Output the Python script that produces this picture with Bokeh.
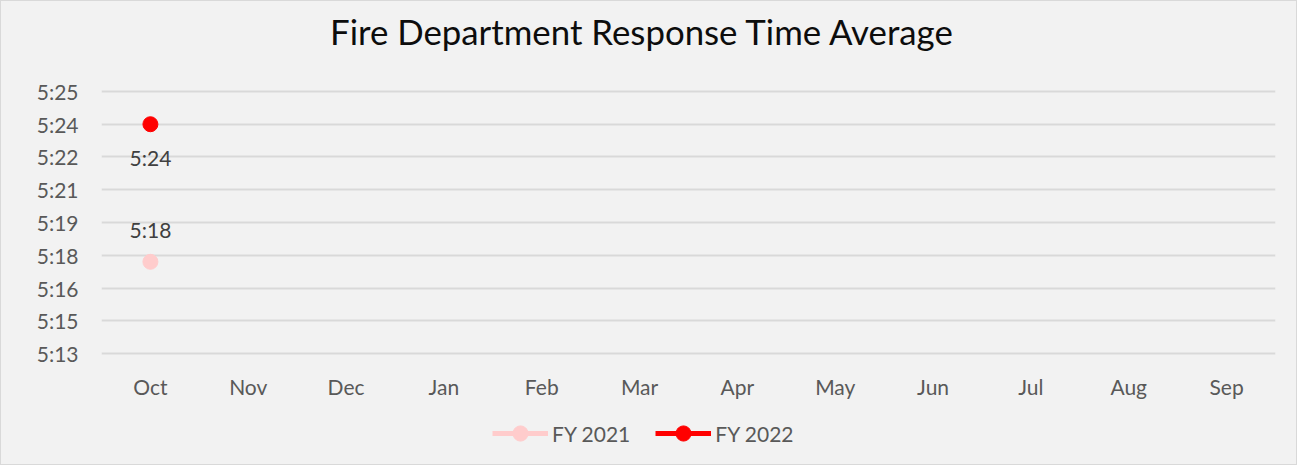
import numpy as np
from bokeh.plotting import figure
from bokeh.layouts import column
from bokeh.models import Range1d, FixedTicker, Legend, LegendItem, Label, ColumnDataSource
from bokeh.core.properties import value
from bokeh.embed import file_html
from bokeh.resources import INLINE

# ---- data ----
months = ["Oct", "Nov", "Dec", "Jan", "Feb", "Mar", "Apr", "May", "Jun", "Jul", "Aug", "Sep"]
fy2021_seconds = [317.2] + [np.nan] * 11   # average response time (seconds)
fy2022_seconds = [323.5] + [np.nan] * 11
fy2021_labels = ["5:18"]
fy2022_labels = ["5:24"]
y_tick_values = [313.0, 314.5, 316.0, 317.5, 319.0, 320.5, 322.0, 323.5, 325.0]
y_tick_labels = ["5:13", "5:15", "5:16", "5:18", "5:19", "5:21", "5:22", "5:24", "5:25"]
series_names = ["FY 2021", "FY 2022"]

FONT = "Lato"
TXT = "#595959"
BG = "#f2f2f2"
C21 = "#ffcccc"
C22 = "#ff0000"
W = 1295
FRAME_L, FRAME_R = 100, 1274   # main plot frame (the strips' frames are aligned to it)


def blank_figure(h, xr, yr):
    f = figure(width=W, height=h, x_range=xr, y_range=yr, output_backend="svg", title=None,
               toolbar_location=None, x_axis_location=None, y_axis_location=None,
               min_border=0, background_fill_color=BG, border_fill_color=BG,
               outline_line_color=None)
    f.xgrid.grid_line_color = None
    f.ygrid.grid_line_color = None
    return f


# ---- title strip ----
top = blank_figure(68, Range1d(FRAME_L, FRAME_R), Range1d(68, 0))
top.add_layout(Label(x=641, y=30, text="Fire Department Response Time Average",
                     text_font=FONT, text_font_size="34.8px", text_color="#0d0d0d",
                     text_align="center", text_baseline="alphabetic"))

# ---- main chart ----
fig = figure(width=W, height=332, x_range=months, y_range=Range1d(312.91, 325.09),
             output_backend="svg", toolbar_location=None,
             min_border_left=FRAME_L, min_border_right=W - FRAME_R, min_border_top=20, min_border_bottom=45,
             background_fill_color=BG, border_fill_color=BG, outline_line_color=None)

fig.yaxis.ticker = FixedTicker(ticks=y_tick_values)
fig.yaxis.major_label_overrides = {float(v): s for v, s in zip(y_tick_values, y_tick_labels)}
for ax in (fig.xaxis[0], fig.yaxis[0]):
    ax.axis_line_color = None
    ax.major_tick_line_color = None
    ax.minor_tick_line_color = None
    ax.major_label_text_font = FONT
    ax.major_label_text_font_size = "21px"
    ax.major_label_text_color = TXT
fig.yaxis.major_label_standoff = 17
fig.xaxis.major_label_standoff = 12
fig.xgrid.grid_line_color = None
fig.ygrid.grid_line_color = "#d9d9d9"
fig.ygrid.grid_line_width = 2

src21 = ColumnDataSource(dict(x=months, y=fy2021_seconds))
src22 = ColumnDataSource(dict(x=months, y=fy2022_seconds))
fig.line("x", "y", source=src21, line_color=C21, line_width=5)
fig.scatter("x", "y", source=src21, size=15, fill_color=C21, line_color=C21)
fig.line("x", "y", source=src22, line_color=C22, line_width=5)
fig.scatter("x", "y", source=src22, size=15, fill_color=C22, line_color=C22)

lab21 = ColumnDataSource(dict(x=months[:len(fy2021_labels)], y=fy2021_seconds[:len(fy2021_labels)], t=fy2021_labels))
lab22 = ColumnDataSource(dict(x=months[:len(fy2022_labels)], y=fy2022_seconds[:len(fy2022_labels)], t=fy2022_labels))
fig.text("x", "y", text="t", source=lab21, y_offset=-32, text_align="center", text_baseline="middle",
         text_font=value(FONT), text_font_size="21px", text_color="#404040")
fig.text("x", "y", text="t", source=lab22, y_offset=33, text_align="center", text_baseline="middle",
         text_font=value(FONT), text_font_size="21px", text_color="#404040")

# ---- legend strip ----
leg = blank_figure(63, Range1d(0, 1), Range1d(0, 1))
items = []
for name, col in zip(series_names, [C21, C22]):
    ln = leg.line(x=[np.nan], y=[np.nan], line_color=col, line_width=5)
    sc = leg.scatter(x=[np.nan], y=[np.nan], size=15, fill_color=col, line_color=col)
    items.append(LegendItem(label=name, renderers=[ln, sc]))
legend = Legend(items=items, orientation="horizontal", location=(391, 12),
                glyph_width=56, glyph_height=38, label_standoff=4, spacing=25,
                padding=0, margin=0, border_line_color=None, background_fill_alpha=0,
                label_text_font=FONT, label_text_font_size="21px", label_text_color=TXT)
leg.add_layout(legend)

p = column(top, fig, leg, spacing=0)
p.styles = {"border": "1px solid #d9d9d9", "background-color": BG}

open("out.html", "w").write(file_html(p, INLINE))
